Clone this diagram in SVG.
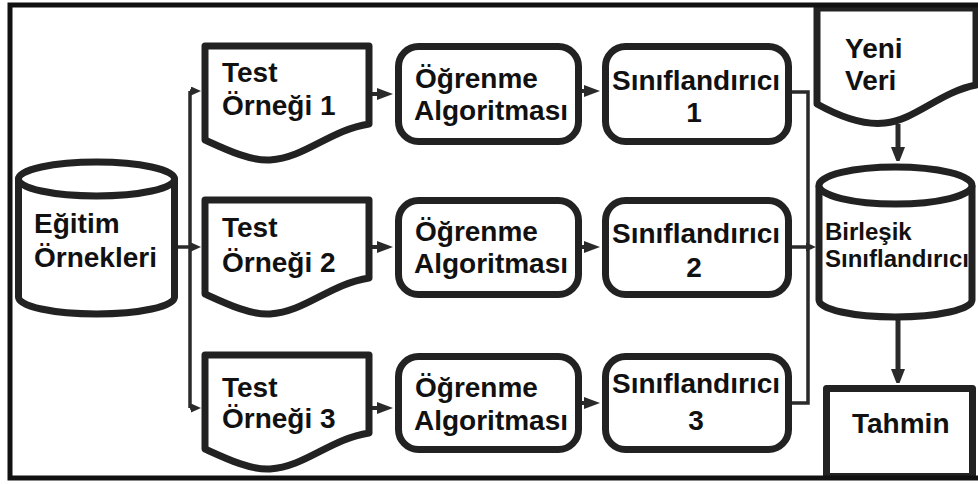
<svg xmlns="http://www.w3.org/2000/svg" width="978" height="484" viewBox="0 0 978 484">
  <defs>
    <style>
      .shape { fill: #ffffff; stroke: #222222; stroke-width: 7; stroke-linejoin: round; }
      .frame { fill: none; stroke: #111111; stroke-width: 5; }
      .lbl { font-family: "Liberation Sans", Arial, sans-serif; font-weight: bold; font-size: 28px; fill: #111111; }
      .lbl-s { font-size: 24px; }
      .mid { text-anchor: middle; }
      .wire { fill: none; stroke: #2a2a2a; stroke-width: 4; }
      .wire-thin { fill: none; stroke: #2a2a2a; stroke-width: 3.5; }
      .wire-bold { fill: none; stroke: #2a2a2a; stroke-width: 5; }
    </style>
    <marker id="head" markerUnits="userSpaceOnUse" markerWidth="16" markerHeight="12" refX="9" refY="6" orient="auto">
      <path d="M0,0 L16,6 L0,12 Z" fill="#2a2a2a"/>
    </marker>
    <marker id="head-s" markerUnits="userSpaceOnUse" markerWidth="10" markerHeight="9" refX="5" refY="4.5" orient="auto">
      <path d="M0,0 L10,4.5 L0,9 Z" fill="#2a2a2a"/>
    </marker>
    <marker id="head-l" markerUnits="userSpaceOnUse" markerWidth="14" markerHeight="18" refX="7" refY="9" orient="auto">
      <path d="M0,0 L18,7 L0,14 Z" fill="#2a2a2a" transform="translate(0,2)"/>
    </marker>
    <path id="doc" d="M0,0 H164 V78 C125,84 100,112 65,114 C45,115 22,104 0,94 Z"/>
  </defs>

  <rect width="978" height="484" fill="#ffffff"/>

  <!-- connectors -->
  <g id="connectors">
    <!-- training set fan-out -->
    <path class="wire-thin" d="M190,91 V408"/>
    <path class="wire-thin" d="M190,91 H196" marker-end="url(#head-s)"/>
    <path class="wire-thin" d="M176,247 H196" marker-end="url(#head-s)"/>
    <path class="wire-thin" d="M190,408 H196" marker-end="url(#head-s)"/>
    <!-- test sample to learner -->
    <path class="wire" d="M372,94 H386" marker-end="url(#head)"/>
    <path class="wire" d="M372,247 H386" marker-end="url(#head)"/>
    <path class="wire" d="M372,408 H386" marker-end="url(#head)"/>
    <!-- learner to classifier -->
    <path class="wire" d="M582,91 H593" marker-end="url(#head)"/>
    <path class="wire" d="M582,247 H593" marker-end="url(#head)"/>
    <path class="wire" d="M582,403 H593" marker-end="url(#head)"/>
    <!-- classifiers to ensemble -->
    <path class="wire-thin" d="M792,92 H808 V403 H792"/>
    <path class="wire-thin" d="M792,247 H811" marker-end="url(#head-s)"/>
    <!-- new data / prediction -->
    <path class="wire-bold" d="M898,124 V154" marker-end="url(#head-l)"/>
    <path class="wire-bold" d="M898,318 V376" marker-end="url(#head-l)"/>
  </g>

  <!-- training samples (database) -->
  <g id="egitim">
    <path class="shape" d="M18.5,179 V297 A78,17 0 0 0 174.5,297 V179"/>
    <ellipse class="shape" cx="96.5" cy="179" rx="78" ry="17"/>
    <text class="lbl" x="34" y="233">Eğitim</text>
    <text class="lbl" x="34" y="267">Örnekleri</text>
  </g>

  <!-- test samples -->
  <g id="test1" transform="translate(205,46)">
    <use href="#doc" class="shape"/>
    <text class="lbl" x="17" y="36">Test</text>
    <text class="lbl" x="17" y="69">Örneği 1</text>
  </g>
  <g id="test2" transform="translate(205,200)">
    <use href="#doc" class="shape"/>
    <text class="lbl" x="17" y="37">Test</text>
    <text class="lbl" x="17" y="72">Örneği 2</text>
  </g>
  <g id="test3" transform="translate(205,355)">
    <use href="#doc" class="shape"/>
    <text class="lbl" x="17" y="42">Test</text>
    <text class="lbl" x="17" y="73">Örneği 3</text>
  </g>

  <!-- learning algorithms -->
  <g id="ogrenme1">
    <rect class="shape" x="398.5" y="46.5" width="180" height="95" rx="20"/>
    <text class="lbl" x="415" y="88">Öğrenme</text>
    <text class="lbl" x="414" y="120">Algoritması</text>
  </g>
  <g id="ogrenme2">
    <rect class="shape" x="398.5" y="200.5" width="180" height="94" rx="20"/>
    <text class="lbl" x="415" y="241">Öğrenme</text>
    <text class="lbl" x="414" y="273">Algoritması</text>
  </g>
  <g id="ogrenme3">
    <rect class="shape" x="398.5" y="356.5" width="180" height="93" rx="20"/>
    <text class="lbl" x="415" y="397">Öğrenme</text>
    <text class="lbl" x="414" y="430">Algoritması</text>
  </g>

  <!-- classifiers -->
  <g id="siniflandirici1">
    <rect class="shape" x="605.5" y="46.5" width="183" height="95" rx="20"/>
    <text class="lbl mid" x="696" y="90">Sınıflandırıcı</text>
    <text class="lbl mid" x="694" y="122">1</text>
  </g>
  <g id="siniflandirici2">
    <rect class="shape" x="605.5" y="200.5" width="183" height="94" rx="20"/>
    <text class="lbl mid" x="696" y="243">Sınıflandırıcı</text>
    <text class="lbl mid" x="694" y="277">2</text>
  </g>
  <g id="siniflandirici3">
    <rect class="shape" x="605.5" y="356.5" width="183" height="93" rx="20"/>
    <text class="lbl mid" x="696" y="393">Sınıflandırıcı</text>
    <text class="lbl mid" x="696" y="430">3</text>
  </g>

  <!-- new data -->
  <g id="yeni-veri">
    <path class="shape" d="M817,8 H976 V85 C940,92 915,120 885,123 C860,126 835,114 817,104 Z"/>
    <text class="lbl" x="845" y="58">Yeni</text>
    <text class="lbl" x="845" y="90">Veri</text>
  </g>

  <!-- combined classifier (database) -->
  <g id="birlesik">
    <path class="shape" d="M819,185.5 V300 A76.5,17 0 0 0 972,300 V185.5"/>
    <ellipse class="shape" cx="895.5" cy="185.5" rx="76.5" ry="18.5"/>
    <text class="lbl lbl-s" x="825" y="240">Birleşik</text>
    <text class="lbl lbl-s" x="825" y="267">Sınıflandırıcı</text>
  </g>

  <!-- prediction -->
  <g id="tahmin">
    <rect class="shape" x="826.5" y="388.5" width="146" height="88" stroke-linejoin="miter"/>
    <text class="lbl" x="852" y="433">Tahmin</text>
  </g>

  <!-- outer border, drawn last so it sits on top of the edge boxes -->
  <path class="frame" d="M990,5 H10 V478 H990"/>
</svg>
